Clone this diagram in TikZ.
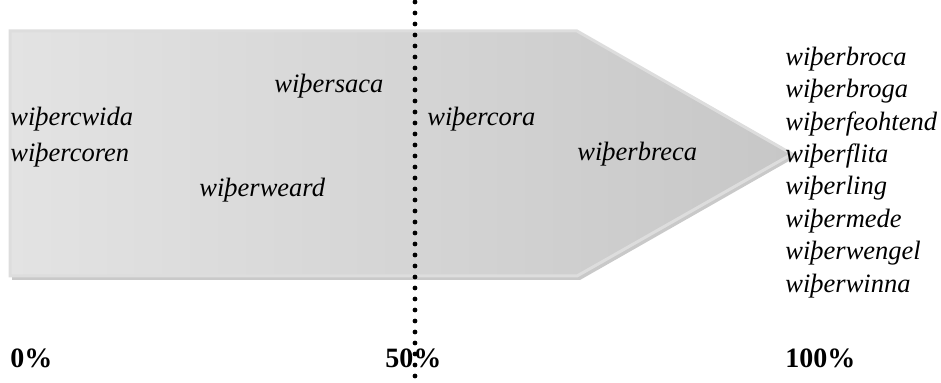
\documentclass[tikz,border=0pt]{standalone}
\usepackage{fontspec}
\setmainfont{Liberation Serif}
\usetikzlibrary{positioning}

\begin{document}
\begin{tikzpicture}[x=0.5pt,y=-0.5pt,
  word/.style={font=\fontsize{13.25}{16}\selectfont\itshape, inner sep=0pt, anchor=base west},
  pct/.style={font=\fontsize{14}{16}\selectfont\bfseries, inner sep=0pt, anchor=base west},
  dotline/.style={line width=2.4pt, line cap=round, dash pattern=on 0pt off 5.5pt}]
  \useasboundingbox (0,0) rectangle (941,383);
  % arrow body
  \fill[gray!42] (12,34) -- (580,34) -- (796,157) -- (580,280) -- (12,280) -- cycle;
  \shade[left color=gray!22, right color=gray!44, draw=gray!27, line width=1.5pt]
    (10,31) -- (577,31) -- (792,154) -- (577,276) -- (10,276) -- cycle;
  % words inside
  \node[word] (saca)  at (274,93)  {wiþersaca};
  \node[word] (cwida) at (10,126)  {wiþercwida};
  \node[word] (coren) at (10,162)  {wiþercoren};
  \node[word] (weard) at (199,197) {wiþerweard};
  \node[word] (cora)  at (427,126) {wiþercora};
  \node[word] (breca) at (577,161) {wiþerbreca};
  % words right
  \foreach \w [count=\i] in {broca,broga,feohtend,flita,ling,mede,wengel,winna}
    \node[word] (r\i) at (785,32.4*\i+33) {wiþer\w};
  % scale
  \node[pct] (p0)   at (10,368)  {0\%};
  \node[pct] (p50)  at (385,368) {50\%};
  \node[pct] (p100) at (785,368) {100\%};
  % midline
  \coordinate (mtop) at (415,2);
  \coordinate (mbot) at (415,381);
  \draw[dotline] (mtop) -- (mbot);
\end{tikzpicture}
\end{document}
